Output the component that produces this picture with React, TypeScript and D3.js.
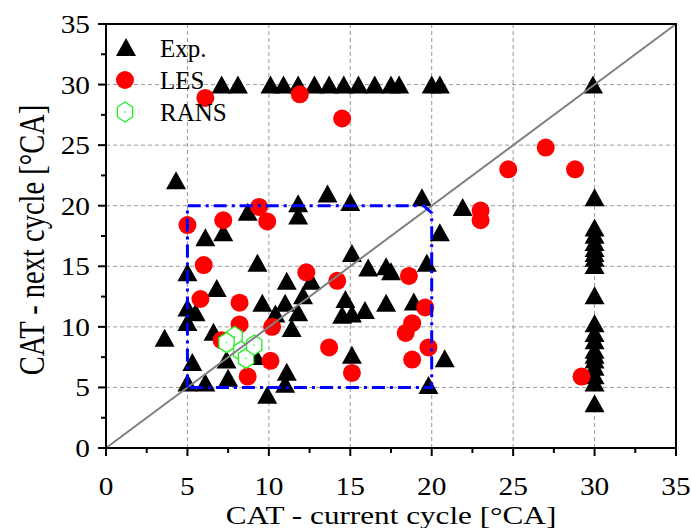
import React from "react";
import * as d3 from "d3";

// Experimental cycle-to-cycle combustion timing pairs (current, next)
const expCurrent = [
  7.1, 8.1, 10.1, 10.9, 11.8, 12.8, 13.7, 14.6, 15.5, 16.5, 17.5, 18.0, 20.0, 20.5, 29.9,
  30, 30, 30, 30, 30, 30, 30, 30, 30, 30, 30, 30, 30, 30, 30, 30, 30, 30, 30,
  4.3, 3.6, 6.1, 7.2, 8.7, 5.0, 9.3, 6.8, 5.0, 5.5, 5.0, 9.6, 11.1, 12.6, 11.0, 12.1,
  11.8, 10.4, 11.4, 11.8, 11.8, 13.6, 15.0, 19.4, 21.9, 20.5, 15.1, 16.1, 17.2, 17.5,
  19.7, 14.7, 14.5, 15.1, 15.9, 17.2, 18.9, 6.6, 7.4, 5.3, 5.0, 6.1, 7.5, 9.9, 11.1,
  11.0, 15.1, 20.8, 19.8, 9.2,
];
const expNext = [
  30, 30, 30, 30, 30, 30, 30, 30, 30, 30, 30, 30, 30, 30, 30,
  20.7, 18.2, 17.6, 17.0, 16.5, 16.1, 15.7, 15.1, 12.6, 10.3, 9.5, 8.9, 8.1, 7.7, 7.3, 6.7, 6.0, 5.4, 3.7,
  22.1, 9.1, 17.4, 17.8, 19.5, 14.5, 15.3, 13.2, 11.6, 11.2, 10.4, 12.0, 13.8, 13.8, 12.0, 12.6,
  11.2, 11.1, 9.9, 20.2, 19.2, 21.0, 20.3, 20.7, 19.9, 17.8, 16.1, 14.9, 15.0, 14.6,
  15.3, 12.3, 11.0, 11.1, 11.4, 12.0, 12.1, 9.6, 7.3, 7.1, 5.4, 5.4, 5.8, 4.4, 6.3,
  5.3, 7.7, 7.4, 5.2, 7.6,
];

// LES predictions
const lesCurrent = [
  6.1, 11.9, 14.5, 24.7, 27.0, 28.8, 23.0, 23.0, 5.0, 7.2, 9.4, 9.9, 6.0, 5.8, 8.2,
  12.3, 14.2, 18.6, 19.6, 18.8, 18.4, 19.8, 18.8, 13.7, 15.1, 8.2, 10.2, 7.1, 10.1,
  8.7, 29.2,
];
const lesNext = [
  28.9, 29.2, 27.2, 23.0, 24.8, 23.0, 19.6, 18.8, 18.4, 18.8, 19.9, 18.7, 15.1, 12.3, 12.0,
  14.5, 13.8, 14.2, 11.6, 10.3, 9.5, 8.3, 7.3, 8.3, 6.2, 10.2, 10.0, 8.9, 7.2,
  5.9, 5.9,
];

// RANS predictions
const ransCurrent = [7.9, 7.4, 8.3, 8.6, 9.1];
const ransNext = [9.2, 8.7, 8.0, 7.4, 8.5];

const axisTicks = [0, 5, 10, 15, 20, 25, 30, 35];
const minorTicks = [2.5, 7.5, 12.5, 17.5, 22.5, 27.5, 32.5];
const gridTicks = [5, 10, 15, 20, 25, 30];

// Region of interest outline (current, next)
const boxCurrent = [5, 5, 19.5, 20, 20];
const boxNext = [5, 20, 20, 19.4, 5];

const legendItems = ["Exp.", "LES", "RANS"];

const W = 691;
const H = 528;
const FONT = "'Liberation Serif', 'Times New Roman', serif";

const x = d3.scaleLinear().domain([0, 35]).range([106, 676]);
const y = d3.scaleLinear().domain([0, 35]).range([448, 24]);

const triPath = (cx: number, cy: number, w = 20, h = 18) =>
  `M${cx},${cy - h / 2}L${cx + w / 2},${cy + h / 2}L${cx - w / 2},${cy + h / 2}Z`;

const hexPath = (cx: number, cy: number, r = 10) => {
  const pts = d3.range(6).map((i) => {
    const a = (Math.PI / 3) * i - Math.PI / 2;
    return [cx + r * 0.88 * Math.cos(a), cy + r * Math.sin(a)];
  });
  return "M" + pts.map((p) => p.join(",")).join("L") + "Z";
};

export default function App() {
  const diag = d3.line<number>()((([0, 35] as number[]).map((v) => [x(v), y(v)]) as any));
  const box =
    d3.line<[number, number]>()(
      boxCurrent.map((c, i) => [x(c), y(boxNext[i])] as [number, number])
    ) + "Z";
  const [x0, x1] = x.range();
  const [y0, y1] = y.range();

  return (
    <svg
      width={W}
      height={H}
      style={{ position: "absolute", left: 0, top: 0, background: "#fff" }}
      fontFamily={FONT}
    >
      <rect width={W} height={H} fill="#fff" />
      {/* grid */}
      {gridTicks.map((t) => (
        <line key={"gx" + t} x1={x(t)} x2={x(t)} y1={y0} y2={y1} stroke="#9a9a9a" strokeWidth={1} strokeDasharray="4,3" />
      ))}
      {gridTicks.map((t) => (
        <line key={"gy" + t} x1={x0} x2={x1} y1={y(t)} y2={y(t)} stroke="#9a9a9a" strokeWidth={1} strokeDasharray="4,3" />
      ))}

      {/* experiment */}
      {expCurrent.map((c, i) => (
        <path key={"e" + i} d={triPath(x(c), y(expNext[i]))} fill="#000" />
      ))}
      {/* LES */}
      {lesCurrent.map((c, i) => (
        <circle key={"l" + i} cx={x(c)} cy={y(lesNext[i])} r={9} fill="#ff0000" />
      ))}
      {/* RANS */}
      {ransCurrent.map((c, i) => (
        <g key={"r" + i}>
          <path d={hexPath(x(c), y(ransNext[i]))} fill="#fff" stroke="#22ee22" strokeWidth={1.3} />
          <circle cx={x(c)} cy={y(ransNext[i])} r={0.8} fill="#22ee22" />
        </g>
      ))}

      {/* diagonal y = x */}
      <path d={diag || ""} stroke="#808080" strokeWidth={2} fill="none" />
      {/* region outline */}
      <path d={box} stroke="#0000ff" strokeWidth={3} fill="none" strokeDasharray="13,5,3,5" />

      {/* frame */}
      <rect x={x0} y={y1} width={x1 - x0} height={y0 - y1} fill="none" stroke="#000" strokeWidth={2} />

      {/* ticks */}
      {axisTicks.map((t) => (
        <g key={"tx" + t}>
          <line x1={x(t)} x2={x(t)} y1={y0} y2={y0 + 8} stroke="#000" strokeWidth={2} />
          <text
            transform={`translate(${x(t)},${y0 + 47}) scale(1.13,1)`}
            textAnchor="middle"
            fontSize={26}
            fill="#000"
          >
            {t}
          </text>
          <line x1={x0} x2={x0 - 8} y1={y(t)} y2={y(t)} stroke="#000" strokeWidth={2} />
          <text
            transform={`translate(${x0 - 16},${y(t) + 9}) scale(1.13,1)`}
            textAnchor="end"
            fontSize={26}
            fill="#000"
          >
            {t}
          </text>
        </g>
      ))}
      {minorTicks.map((t) => (
        <g key={"mx" + t}>
          <line x1={x(t)} x2={x(t)} y1={y0} y2={y0 + 5} stroke="#000" strokeWidth={2} />
          <line x1={x0} x2={x0 - 5} y1={y(t)} y2={y(t)} stroke="#000" strokeWidth={2} />
        </g>
      ))}

      {/* axis titles */}
      <text
        transform={`translate(${(x0 + x1) / 2},524) scale(1.2,1)`}
        textAnchor="middle"
        fontSize={26}
        fill="#000"
      >
        CAT - current cycle [°CA]
      </text>
      <text
        transform={`translate(44,${(y0 + y1) / 2 + 4}) scale(1.25,1) rotate(-90)`}
        textAnchor="middle"
        fontSize={28.5}
        fill="#000"
      >
        CAT - next cycle [°CA]
      </text>

      {/* legend */}
      <g>
        <path d={triPath(126, 47)} fill="#000" />
        <circle cx={125} cy={80} r={9} fill="#ff0000" />
        <path d={hexPath(125, 112)} fill="#fff" stroke="#22ee22" strokeWidth={1.3} />
        <circle cx={125} cy={112} r={0.8} fill="#22ee22" />
        {legendItems.map((s, i) => (
          <text key={s} x={160} y={57 + i * 32} fontSize={25} fill="#000">
            {s}
          </text>
        ))}
      </g>
    </svg>
  );
}
